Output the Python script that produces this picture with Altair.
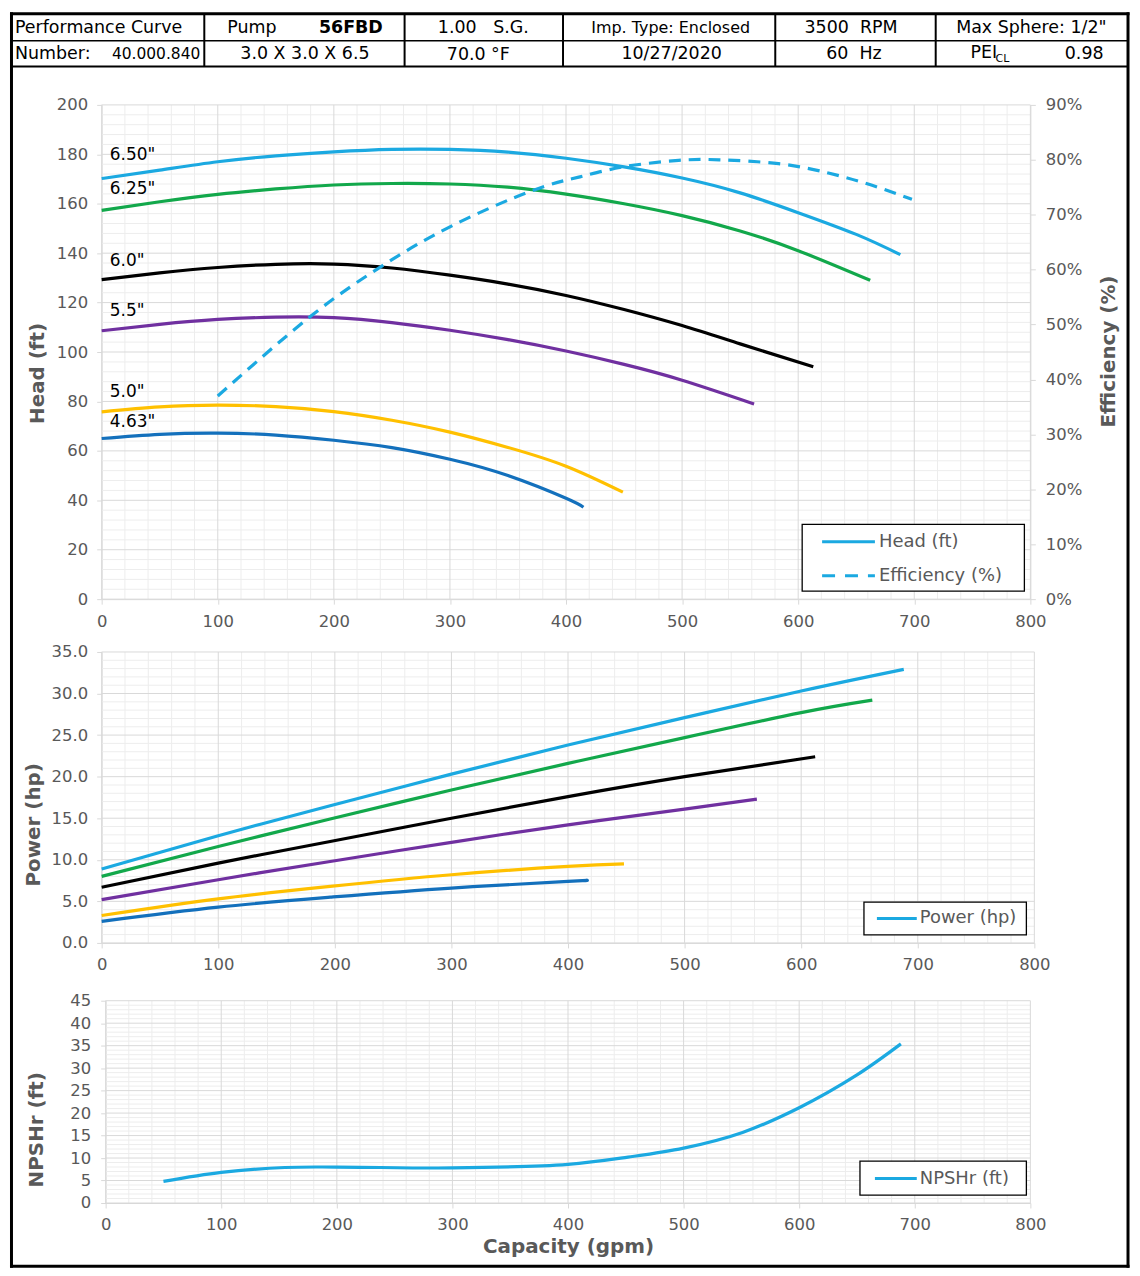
import altair as alt
import pandas as pd

FONT = "DejaVu Sans"
TXT_GRAY = "#595959"
GRID_MAJOR = "#d9d9d9"
GRID_MINOR = "#ededed"
NBSP = "\u00a0"

# ------------------------------------------------------------------ data
DIAMETERS = ['6.50"', '6.25"', '6.0"', '5.5"', '5.0"', '4.63"']
CURVE_COLORS = ["#1BA9E1", "#12A84B", "#000000", "#7030A0", "#FFC000", "#1370BC"]

# Head (ft) vs capacity (gpm)
Q_650 = [0, 50, 100, 150, 200, 250, 300, 350, 400, 450, 500, 550, 600, 650, 688]
H_650 = [170.2, 173.6, 177.0, 179.4, 181.0, 182.0, 182.0, 180.9, 178.4, 174.9, 170.4, 164.4, 156.4, 147.6, 139.4]
Q_625 = [0, 50, 100, 150, 200, 250, 300, 350, 400, 450, 500, 550, 600, 662]
H_625 = [157.3, 160.8, 163.8, 166.0, 167.6, 168.2, 168.0, 166.7, 163.9, 160.0, 155.2, 149.0, 141.0, 129.0]
Q_600 = [0, 50, 100, 150, 200, 250, 300, 350, 400, 450, 500, 550, 613]
H_600 = [129.3, 132.0, 134.2, 135.5, 135.6, 134.0, 131.1, 127.5, 122.9, 117.2, 110.7, 103.3, 94.0]
Q_550 = [0, 50, 100, 150, 200, 250, 300, 350, 400, 450, 500, 562]
H_550 = [108.6, 111.2, 113.2, 114.1, 113.9, 111.9, 108.8, 105.0, 100.4, 95.0, 88.6, 79.0]
Q_500 = [0, 50, 100, 150, 200, 250, 300, 350, 400, 449]
H_500 = [75.8, 77.8, 78.5, 77.9, 75.9, 72.4, 67.6, 61.4, 53.8, 43.3]
Q_463 = [0, 50, 100, 150, 200, 250, 300, 350, 400, 415]
H_463 = [65.0, 66.7, 67.2, 66.4, 64.3, 61.3, 56.6, 50.0, 40.8, 37.2]

# Efficiency (%)
EFF_Q = [100, 180, 241, 300, 371, 412, 449, 497, 532, 583, 626, 663, 698]
EFF_V = [37.0, 51.5, 60.6, 67.8, 74.4, 76.9, 78.7, 79.9, 80.0, 79.3, 77.6, 75.4, 72.8]

# Power (hp)
PQ_650 = [0, 100, 196, 300, 400, 500, 600, 688]
P_650 = [8.9, 12.9, 16.5, 20.3, 23.8, 27.1, 30.3, 32.9]
PQ_625 = [0, 100, 196, 300, 400, 500, 600, 661]
P_625 = [8.0, 11.6, 14.9, 18.4, 21.6, 24.7, 27.7, 29.2]
PQ_600 = [0, 100, 196, 300, 400, 500, 612]
P_600 = [6.7, 9.6, 12.2, 15.0, 17.6, 20.0, 22.4]
PQ_550 = [0, 100, 196, 300, 400, 500, 562]
P_550 = [5.2, 7.6, 9.8, 12.1, 14.2, 16.1, 17.3]
PQ_500 = [0, 100, 196, 300, 400, 448]
P_500 = [3.3, 5.3, 6.8, 8.2, 9.2, 9.5]
PQ_463 = [0, 100, 196, 300, 400, 415]
P_463 = [2.6, 4.3, 5.5, 6.6, 7.4, 7.5]

# NPSHr (ft)
NPSH_Q = [50, 100, 155, 200, 300, 400, 452, 500, 551, 600, 650, 688]
NPSH_V = [4.8, 6.8, 7.9, 8.0, 7.8, 8.6, 10.2, 12.2, 15.7, 21.2, 28.5, 35.4]

# impeller-diameter labels (gpm, ft)
LABEL_Q = 7
LABEL_HEAD = [179.7, 165.9, 136.9, 116.4, 83.9, 71.8]

# header table text
HEADER_TEXT = [
    ("Performance Curve", 13, 23.5, "left", 17.5, "normal"),
    ("Pump", 226, 23.5, "left", 17.5, "normal"),
    ("56FBD", 318, 23.5, "left", 17.5, "bold"),
    ("1.00" + NBSP * 3 + "S.G.", 483, 23.5, "center", 17.5, "normal"),
    ("Imp. Type: Enclosed", 671, 23.5, "center", 16, "normal"),
    ("3500" + NBSP * 2 + "RPM", 852, 23.5, "center", 17.5, "normal"),
    ('Max Sphere: 1/2"', 1033, 23.5, "center", 17.5, "normal"),
    ("Number:", 13, 49.5, "left", 17.5, "normal"),
    ("40.000.840", 199, 49.5, "right", 15.5, "normal"),
    ("3.0 X 3.0 X 6.5", 304, 49.5, "center", 17.5, "normal"),
    ("70.0 \u00b0F", 478, 50.5, "center", 17.5, "normal"),
    ("10/27/2020", 672, 49.5, "center", 17.5, "normal"),
    ("60" + NBSP * 2 + "Hz", 855, 49.5, "center", 17.5, "normal"),
    ("PEI", 972, 48.5, "left", 17.5, "normal"),
    ("CL", 997, 55, "left", 11, "normal"),
    ("0.98", 1086, 49.5, "center", 17.5, "normal"),
]

# ------------------------------------------------------------------ layout (page pixels)
P1_ORIGIN = (100, 101)
P2_ORIGIN = (100, 650)
P3_ORIGIN = (100, 995)

FRAME_RULES = [  # x1, y1, x2, y2, width
    (8, 9.5, 1131.5, 9.5, 3),
    (8, 1266.5, 1131.5, 1266.5, 3),
    (9.5, 8, 9.5, 1268, 3),
    (1130, 8, 1130, 1268, 3),
    (9.5, 36.5, 1130, 36.5, 1.5),
    (9.5, 62.5, 1130, 62.5, 2),
    (203, 9.5, 203, 62.5, 2),
    (404, 9.5, 404, 62.5, 2),
    (563, 9.5, 563, 62.5, 2),
    (776, 9.5, 776, 62.5, 2),
    (937, 9.5, 937, 62.5, 2),
]


def long_df(qs_list, vs_list):
    rows = []
    for d, qs, vs in zip(DIAMETERS, qs_list, vs_list):
        for q, v in zip(qs, vs):
            rows.append({"d": d, "q": q, "v": v})
    return pd.DataFrame(rows)


head_df = long_df([Q_650, Q_625, Q_600, Q_550, Q_500, Q_463],
                  [H_650, H_625, H_600, H_550, H_500, H_463])
power_df = long_df([PQ_650, PQ_625, PQ_600, PQ_550, PQ_500, PQ_463],
                   [P_650, P_625, P_600, P_550, P_500, P_463])
eff_df = pd.DataFrame({"q": EFF_Q, "v": EFF_V})
npsh_df = pd.DataFrame({"q": NPSH_Q, "v": NPSH_V})
label_df = pd.DataFrame({"d": DIAMETERS, "q": [LABEL_Q] * len(DIAMETERS), "v": LABEL_HEAD})

COLOR_SCALE = alt.Scale(domain=DIAMETERS, range=CURVE_COLORS)
X_VALUES = list(range(0, 801, 100))


# ------------------------------------------------------------------ helpers
def px_rules(rows, origin, color="black", dash=None):
    ox, oy = origin
    df = pd.DataFrame(rows, columns=["x1", "y1", "x2", "y2", "w"])
    df["x1"] -= ox
    df["x2"] -= ox
    df["y1"] -= oy
    df["y2"] -= oy
    kw = dict(color=color, strokeCap="butt")
    if dash:
        kw["strokeDash"] = dash
    return alt.Chart(df).mark_rule(**kw).encode(
        x=alt.X("x1:Q", scale=None, axis=None), x2="x2:Q",
        y=alt.Y("y1:Q", scale=None, axis=None), y2="y2:Q",
        strokeWidth=alt.StrokeWidth("w:Q", scale=None, legend=None),
    )


def px_box(box, origin):
    ox, oy = origin
    df = pd.DataFrame([{"x1": box[0] - ox, "y1": box[1] - oy, "x2": box[2] - ox, "y2": box[3] - oy}])
    return alt.Chart(df).mark_rect(fill="white", stroke="black", strokeWidth=1.3).encode(
        x=alt.X("x1:Q", scale=None, axis=None), x2="x2:Q",
        y=alt.Y("y1:Q", scale=None, axis=None), y2="y2:Q",
    )


def px_texts(rows, origin, color="black"):
    ox, oy = origin
    df = pd.DataFrame(rows, columns=["t", "x", "y", "align", "size", "weight"])
    df["x"] -= ox
    df["y"] -= oy
    layers = []
    for (align, size, weight), g in df.groupby(["align", "size", "weight"]):
        layers.append(
            alt.Chart(g.reset_index(drop=True)).mark_text(
                align=align, baseline="middle", fontSize=float(size), fontWeight=weight,
                font=FONT, color=color,
            ).encode(
                x=alt.X("x:Q", scale=None, axis=None),
                y=alt.Y("y:Q", scale=None, axis=None),
                text="t:N",
            )
        )
    return layers


def grid_layers(xs, ys, xaxis, yaxis, ymax, ymajor, yminor):
    vmaj = X_VALUES
    vmin = [v for v in range(0, 801, 20) if v % 100]
    hmaj = list(range(0, ymax + 1, ymajor))
    hmin = [v for v in range(0, ymax + 1, yminor) if v % ymajor]

    def vrules(vals, color):
        df = pd.DataFrame({"v": vals, "lo": 0, "hi": ymax})
        return alt.Chart(df).mark_rule(color=color, strokeWidth=1).encode(
            x=alt.X("v:Q", scale=xs, axis=xaxis),
            y=alt.Y("lo:Q", scale=ys, axis=yaxis), y2="hi:Q")

    def hrules(vals, color):
        df = pd.DataFrame({"v": vals, "lo": 0, "hi": 800})
        return alt.Chart(df).mark_rule(color=color, strokeWidth=1).encode(
            y=alt.Y("v:Q", scale=ys, axis=yaxis),
            x=alt.X("lo:Q", scale=xs, axis=xaxis), x2="hi:Q")

    return [vrules(vmin, GRID_MINOR), hrules(hmin, GRID_MINOR),
            vrules(vmaj, GRID_MAJOR), hrules(hmaj, GRID_MAJOR)]


def legend_layers(box, solid, dashed, texts, origin):
    out = [px_box(box, origin)]
    if solid:
        out.append(px_rules(solid, origin, color=CURVE_COLORS[0]))
    if dashed:
        out.append(px_rules(dashed, origin, color=CURVE_COLORS[0], dash=[13, 10]))
    out += px_texts(texts, origin, color=TXT_GRAY)
    return out


# ------------------------------------------------------------------ panel 1: head + efficiency
X1 = alt.Scale(domain=[0, 800], nice=False, zero=False)
Y1 = alt.Scale(domain=[0, 200], nice=False)
YE = alt.Scale(domain=[0, 90], nice=False)
XA1 = alt.Axis(values=X_VALUES, title=None, labelPadding=9)
YA1 = alt.Axis(values=list(range(0, 201, 20)), title="Head (ft)", titleX=-64, titleY=269,
               titleAngle=270, titleAlign="center", titleBaseline="middle", labelPadding=9)
YAE = alt.Axis(orient="right", values=list(range(0, 91, 10)), labelExpr="datum.value + '%'",
               title="Efficiency (%)", titleX=78, titleY=247, titleAngle=270,
               titleAlign="center", titleBaseline="middle", labelPadding=10)

head_lines = alt.Chart(head_df).mark_line(strokeWidth=3.2, interpolate="natural").encode(
    x=alt.X("q:Q", scale=X1, axis=XA1),
    y=alt.Y("v:Q", scale=Y1, axis=YA1),
    color=alt.Color("d:N", scale=COLOR_SCALE, legend=None),
)
curve_labels = alt.Chart(label_df).mark_text(
    align="left", baseline="middle", fontSize=17, font=FONT, color="black"
).encode(
    x=alt.X("q:Q", scale=X1, axis=XA1),
    y=alt.Y("v:Q", scale=Y1, axis=YA1),
    text="d:N",
)
eff_line = alt.Chart(eff_df).mark_line(
    strokeWidth=3.2, strokeDash=[12, 8], color=CURVE_COLORS[0], interpolate="natural"
).encode(
    x=alt.X("q:Q", scale=X1, axis=XA1),
    y=alt.Y("v:Q", scale=YE, axis=YAE),
)

head_group = alt.layer(*grid_layers(X1, Y1, XA1, YA1, 200, 20, 4), head_lines, curve_labels)

deco1 = [px_rules(FRAME_RULES, P1_ORIGIN)] + px_texts(HEADER_TEXT, P1_ORIGIN)
deco1 += legend_layers(
    (803, 522, 1026, 589),
    [(823, 539.5, 876, 539.5, 3)],
    [(823, 573.5, 876, 573.5, 3)],
    [("Head (ft)", 880, 539.5, "left", 18, "normal"),
     ("Efficiency (%)", 880, 573.5, "left", 18, "normal")],
    P1_ORIGIN,
)

p1 = alt.layer(head_group, eff_line, *deco1).resolve_scale(y="independent").properties(
    width=932, height=496)

# ------------------------------------------------------------------ panel 2: power
X2 = alt.Scale(domain=[0, 800], nice=False, zero=False)
Y2 = alt.Scale(domain=[0, 35], nice=False)
XA2 = alt.Axis(values=X_VALUES, title=None, labelPadding=9)
YA2 = alt.Axis(values=list(range(0, 36, 5)), format=".1f", title="Power (hp)", titleX=-68,
               titleY=173, titleAngle=270, titleAlign="center", titleBaseline="middle",
               labelPadding=9)
power_lines = alt.Chart(power_df).mark_line(strokeWidth=3.2, interpolate="natural").encode(
    x=alt.X("q:Q", scale=X2, axis=XA2),
    y=alt.Y("v:Q", scale=Y2, axis=YA2),
    color=alt.Color("d:N", scale=COLOR_SCALE, legend=None),
)
deco2 = legend_layers(
    (865, 901, 1028, 934),
    [(878, 917.5, 918, 917.5, 3)],
    None,
    [("Power (hp)", 921, 917.5, "left", 18, "normal")],
    P2_ORIGIN,
)
p2 = alt.layer(*grid_layers(X2, Y2, XA2, YA2, 35, 5, 1), power_lines, *deco2).properties(
    width=936, height=292)

# ------------------------------------------------------------------ panel 3: NPSHr
X3 = alt.Scale(domain=[0, 800], range=[4, 932], nice=False, zero=False)
Y3 = alt.Scale(domain=[0, 45], range=[208, 5], nice=False)
XA3 = alt.Axis(values=X_VALUES, title="Capacity (gpm)", titleX=468, titleY=44,
               titleAlign="center", titleBaseline="middle", labelPadding=9)
YA3 = alt.Axis(values=list(range(0, 46, 5)), title="NPSHr (ft)", titleX=-69, titleY=134,
               titleAngle=270, titleAlign="center", titleBaseline="middle",
               labelPadding=10, offset=-4)
npsh_line = alt.Chart(npsh_df).mark_line(
    strokeWidth=3.2, color=CURVE_COLORS[0], interpolate="catmull-rom"
).encode(
    x=alt.X("q:Q", scale=X3, axis=XA3),
    y=alt.Y("v:Q", scale=Y3, axis=YA3),
)
deco3 = legend_layers(
    (861, 1161, 1028, 1195),
    [(876, 1178.5, 918, 1178.5, 3)],
    None,
    [("NPSHr (ft)", 921, 1178.5, "left", 18, "normal")],
    P3_ORIGIN,
)
p3 = alt.layer(*grid_layers(X3, Y3, XA3, YA3, 45, 5, 1), npsh_line, *deco3).properties(
    width=932, height=208)

# ------------------------------------------------------------------ assemble
chart = (
    alt.vconcat(p1, p2, p3, spacing=53, bounds="flush")
    .properties(padding=0, background="white")
    .configure(font=FONT)
    .configure_view(stroke="transparent")
    .configure_axis(
        labelFont=FONT, labelFontSize=16.5, labelColor=TXT_GRAY,
        titleFont=FONT, titleFontSize=20, titleFontWeight="bold", titleColor=TXT_GRAY,
        domainColor=GRID_MAJOR, tickColor=GRID_MAJOR, tickSize=5, grid=False,
        labelFlush=False, labelOverlap=False,
    )
)

chart.save("out.html", embed_options={"renderer": "svg", "actions": False})
